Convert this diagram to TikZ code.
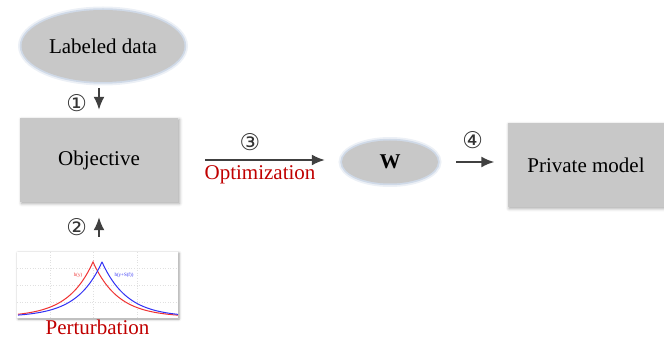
\documentclass[tikz,border=0pt]{standalone}
\usepackage{fontspec}
\setmainfont{Liberation Serif}
\newfontfamily\circfont{DejaVu Sans}
\usetikzlibrary{arrows.meta,shapes.geometric,shadows.blur,positioning}
\definecolor{boxgray}{RGB}{200,200,200}
\definecolor{glowblue}{RGB}{180,196,218}
\definecolor{darkred}{RGB}{192,0,0}
\definecolor{arrowgray}{RGB}{64,64,64}
\definecolor{lapred}{RGB}{240,50,50}
\definecolor{lapblue}{RGB}{50,50,245}

\begin{document}
\begin{tikzpicture}
[x=1pt,y=-1pt,
every node/.style={font=\rmfamily\fontsize{21}{24}\selectfont},
blob/.style={ellipse,fill=boxgray,inner sep=0pt,
  preaction={draw=glowblue,line width=7pt,draw opacity=.25},
  preaction={draw=glowblue,line width=3.5pt,draw opacity=.5}},
box/.style={rectangle,fill=boxgray,inner sep=0pt,
  blur shadow={shadow xshift=1.5pt,shadow yshift=-1.5pt,shadow blur radius=3pt,shadow opacity=35}},
%
myedge/.style={line width=1.8pt,arrowgray,-{Latex[length=13pt,width=11pt]}},
num/.style={font=\circfont\fontsize{23}{23}\selectfont,text=black!80,inner sep=0pt},
gridline/.style={dotted,black!12,line width=.6pt},
curve/.style={line width=1pt},
tinylab/.style={font=\fontsize{5}{5}\selectfont,inner sep=0pt}]
%
\useasboundingbox (0,0) rectangle (664,339);
%
\node (data) [blob,minimum width=163pt,minimum height=72pt] at (103,46) {Labeled data};
\node (objective) [box,minimum width=158pt,minimum height=84pt] at (99,160) {Objective};
\node (perturb) [rectangle,fill=white,inner sep=0pt,minimum width=161pt,minimum height=66pt,
  blur shadow={shadow xshift=1pt,shadow yshift=-1pt,shadow blur radius=2.5pt,shadow opacity=40}] at (97.5,285) {};
\node (perturblabel) [below=2pt of perturb,inner sep=0pt,text=darkred] {Perturbation};
\node (weights) [blob,minimum width=96pt,minimum height=43pt] at (390,162) {\textbf{W}};
\node (model) [box,minimum width=157pt,minimum height=84pt] at (586,165) {Private model};
%
% the little Laplace plot
\begin{scope}
\clip (perturb.south west) rectangle (perturb.north east);
\foreach \gx in {50,93,137} \draw[gridline] (\gx,252) -- (\gx,318);
\foreach \gy in {268,285,302} \draw[gridline] (17,\gy) -- (178,\gy);
\draw[curve,lapred] plot[domain=18:93,samples=40] (\x,{317-55*exp(-(93-\x)/25)})
  -- plot[domain=93:178,samples=40] (\x,{317-55*exp(-(\x-93)/25)});
\draw[curve,lapblue] plot[domain=18:102,samples=40] (\x,{317-55*exp(-(102-\x)/25)})
  -- plot[domain=102:178,samples=40] (\x,{317-55*exp(-(\x-102)/25)});
\end{scope}
\node (redlab) [tinylab,text=lapred] at (78,275) {h(y)};
\node (bluelab) [tinylab,text=lapblue] at (124,275) {h(y+S(f))};
%
% steps
\draw[myedge,shorten <=6pt,shorten >=8pt] (objective.north |- data.south) -- (objective.north)
  node[num,midway,left=11pt,yshift=-3pt] {①};
\draw[myedge,shorten <=15pt,shorten >=15pt] (objective.south |- perturb.north) -- (objective.south)
  node[num,midway,left=11pt] {②};
\draw[myedge,shorten <=27pt,shorten >=17pt] (objective.east) -- (objective.east -| weights.west)
  node[num,midway,above=8pt,xshift=-10pt] {③}
  node[midway,below=5pt,text=darkred,inner sep=0pt] {Optimization};
\draw[myedge,shorten <=18pt,shorten >=13pt] (weights.east) -- (weights.east -| model.west)
  node[num,midway,above=12pt] {④};
\end{tikzpicture}
\end{document}
